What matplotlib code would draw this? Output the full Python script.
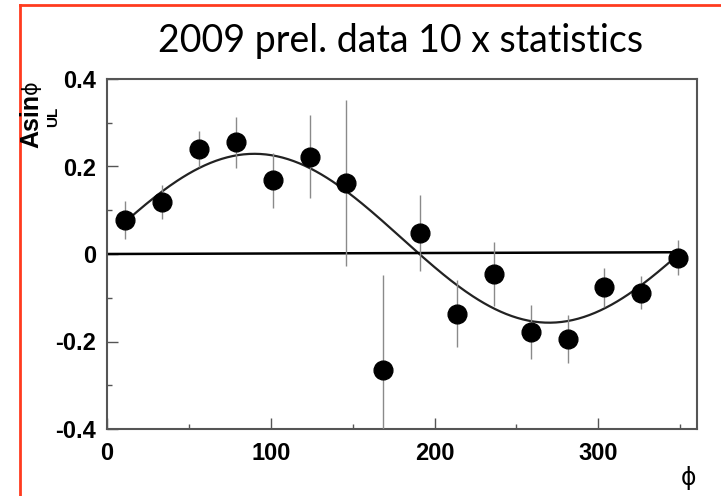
import numpy as np
import matplotlib.pyplot as plt
from matplotlib.lines import Line2D
from matplotlib.ticker import MultipleLocator

# azimuthal bins (degrees) and measured asymmetry with errors
phi = [11.25, 33.75, 56.25, 78.75, 101.25, 123.75, 146.25, 168.75,
       191.25, 213.75, 236.25, 258.75, 281.25, 303.75, 326.25, 348.75]
asym = [0.078, 0.119, 0.240, 0.255, 0.168, 0.222, 0.162, -0.264,
        0.047, -0.136, -0.046, -0.179, -0.194, -0.076, -0.088, -0.008]
err = [0.044, 0.038, 0.041, 0.058, 0.062, 0.095, 0.190, 0.215,
       0.087, 0.077, 0.073, 0.062, 0.055, 0.045, 0.038, 0.040]

# fit p0 + p1*sin(phi)
p0 = 0.036
p1 = 0.193
# straight reference line
ref_x = [0.0, 348.75]
ref_y = [0.0, 0.004]

fig = plt.figure(figsize=(7.21, 4.96), dpi=100)
ax = fig.add_axes([107/721, 1-429/496, (696.5-107)/721, (429-79)/496])

ax.errorbar(phi, asym, yerr=err, fmt='o', color='black', ms=13.5,
            ecolor='#8a8a8a', elinewidth=1.0, capsize=0, zorder=3)

xf = np.linspace(phi[0], phi[-1], 300)
ax.plot(xf, p0 + p1*np.sin(np.radians(xf)), color='#222222', lw=1.6, zorder=2)
ax.plot(ref_x, ref_y, color='black', lw=1.8, zorder=2)

ax.set_xlim(0, 360)
ax.set_ylim(-0.4, 0.4)
ax.xaxis.set_major_locator(MultipleLocator(100))
ax.xaxis.set_minor_locator(MultipleLocator(50))
ax.yaxis.set_minor_locator(MultipleLocator(0.1))
ax.set_yticks([-0.4, -0.2, 0, 0.2, 0.4])
ax.set_yticklabels(['-0.4', '-0.2', '0', '0.2', '0.4'])

for s in ax.spines.values():
    s.set_color('#555555')
    s.set_linewidth(1.5)

ax.tick_params(which='both', direction='in', top=False, right=False,
               color='#555555', width=1.0)
ax.tick_params(which='major', length=8)
ax.tick_params(which='minor', length=3.6)
ax.tick_params(axis='y', pad=8)
ax.tick_params(axis='x', pad=9)
for lab in ax.get_xticklabels() + ax.get_yticklabels():
    lab.set_fontfamily('Liberation Sans')
    lab.set_fontweight('bold')
    lab.set_fontsize(17)

# axis titles
fig.text(688/721, 1-478/496, 'ϕ', fontsize=17, ha='center', va='center',
         family=['DejaVu Sans'])
fig.text(31/721, 1-148/496, 'Asin', fontsize=18, fontweight='bold', rotation=90,
         ha='center', va='bottom', family='Liberation Sans')
fig.text(31/721, 1-94/496, 'ϕ', fontsize=15, rotation=90,
         ha='center', va='bottom', family='DejaVu Sans')
fig.text(53/721, 1-117/496, 'UL', fontsize=11, fontweight='bold', rotation=90,
         ha='center', va='center', family='Liberation Sans')

fig.text(401/721, 1-41/496, '2009 prel. data 10 x statistics', fontsize=27,
         ha='center', va='center', family='Lato')

# slide frame
fy = 1 - 4.5/496
fx = 20/721
fig.add_artist(Line2D([fx, fx], [0, fy], color='#ff3b1f', lw=2, transform=fig.transFigure))
fig.add_artist(Line2D([fx, 1], [fy, fy], color='#ff3b1f', lw=2, transform=fig.transFigure))

fig.savefig('out.png', dpi=100)
